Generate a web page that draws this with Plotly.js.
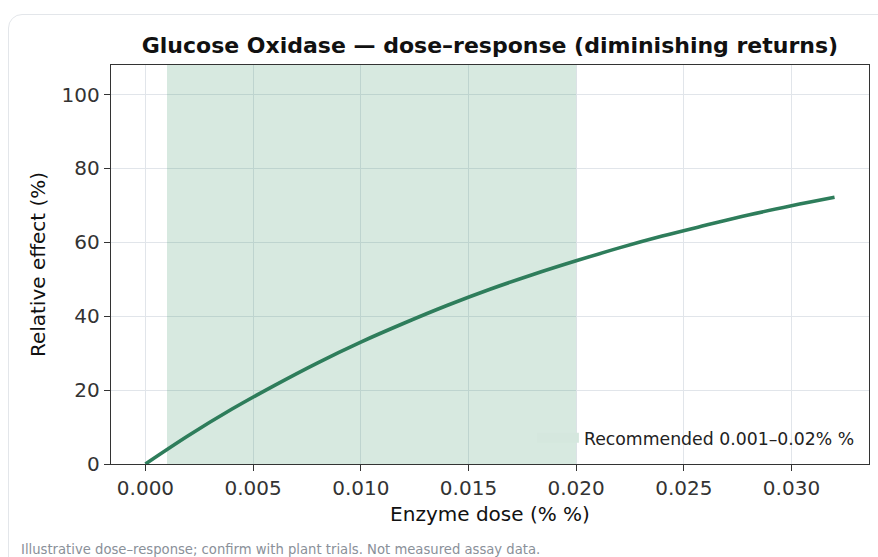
<!DOCTYPE html>
<html><head><meta charset="utf-8">
<script src="https://cdn.plot.ly/plotly-3.0.1.min.js"></script>
<style>
html,body{margin:0;padding:0;background:#fff;width:878px;height:557px;overflow:hidden;}
#card{position:absolute;left:8px;top:14px;width:900px;height:600px;border:1.5px solid #e3e6ea;border-radius:14px;box-sizing:border-box;}
#plot{position:absolute;left:0;top:0;width:878px;height:557px;}
</style></head>
<body><div id="card"></div><div id="plot"></div>
<script>
const doseX = [0, 0.002, 0.004, 0.006, 0.008, 0.010, 0.012, 0.014, 0.016, 0.018, 0.020, 0.022, 0.024, 0.026, 0.028, 0.030, 0.032];
const effectY = [0, 7.7, 14.8, 21.3, 27.4, 33.0, 38.1, 42.9, 47.3, 51.3, 55.0, 58.5, 61.7, 64.6, 67.4, 69.9, 72.2];
const recLow = 0.001, recHigh = 0.02;
const yTop = 108;
const xTicks = [0, 0.005, 0.010, 0.015, 0.020, 0.025, 0.030];
const xTickText = ["0.000","0.005","0.010","0.015","0.020","0.025","0.030"];
const yTicks = [0, 20, 40, 60, 80, 100];
const recLabel = 'Recommended 0.001–0.02% %';

const font = "DejaVu Sans, sans-serif";
const fillCol = 'rgba(44,140,90,0.19)';
const traces = [
  {x:[recLow, recHigh, recHigh, recLow, recLow], y:[0,0,yTop,yTop,0], type:'scatter', mode:'none',
   fill:'toself', fillcolor:fillCol, showlegend:false, hoverinfo:'skip'},
  {x:[null], y:[null], type:'scatter', mode:'lines', line:{color:'rgba(213,231,222,1)', width:12}, name:recLabel, showlegend:true},
  {x:doseX, y:effectY, type:'scatter', mode:'lines', line:{color:'#2e7d5b', width:3.6, shape:'spline'},
   showlegend:false, name:'Effect'}
];
const layout = {
  width:878, height:557,
  margin:{l:111, r:9, t:65, b:93},
  paper_bgcolor:'rgba(0,0,0,0)', plot_bgcolor:'#fff',
  font:{family:font, color:'#222', size:20},
  title:{text:'<b>Glucose Oxidase — dose–response (diminishing returns)</b>', x:0.558, xanchor:'center', y:0.918, yanchor:'middle',
         font:{family:font, size:22, color:'#111'}},
  xaxis:{range:[-0.0016, 0.0336], tickvals:xTicks, ticktext:xTickText, showgrid:true, gridcolor:'#e1e5ea', gridwidth:1,
         zeroline:false, showline:true, mirror:true, linecolor:'#333', linewidth:1.4, ticks:'outside', ticklen:6, tickcolor:'#333',
         tickfont:{size:20, color:'#333'}, title:{text:'Enzyme dose (% %)', font:{size:20, color:'#111'}, standoff:7}},
  yaxis:{range:[0, yTop], tickvals:yTicks, showgrid:true, gridcolor:'#e1e5ea', gridwidth:1,
         zeroline:false, showline:true, mirror:true, linecolor:'#333', linewidth:1.4, ticks:'outside', ticklen:6, tickcolor:'#333',
         tickfont:{size:20, color:'#333'}, title:{text:'Relative effect (%)', font:{size:20, color:'#111'}, standoff:10}},
  legend:{x:0.988, xanchor:'right', y:0.065, yanchor:'middle', bgcolor:'rgba(0,0,0,0)', font:{size:17.3, color:'#222'}, itemwidth:42},
  showlegend:true,
  annotations:[{text:'Illustrative dose–response; confirm with plant trials. Not measured assay data.', xref:'paper', yref:'paper',
    x:-0.122, xanchor:'left', y:-0.215, yanchor:'middle', showarrow:false, font:{size:13.2, color:'#8a9099'}}]
};
Plotly.newPlot('plot', traces, layout, {displayModeBar:false});
</script></body></html>
